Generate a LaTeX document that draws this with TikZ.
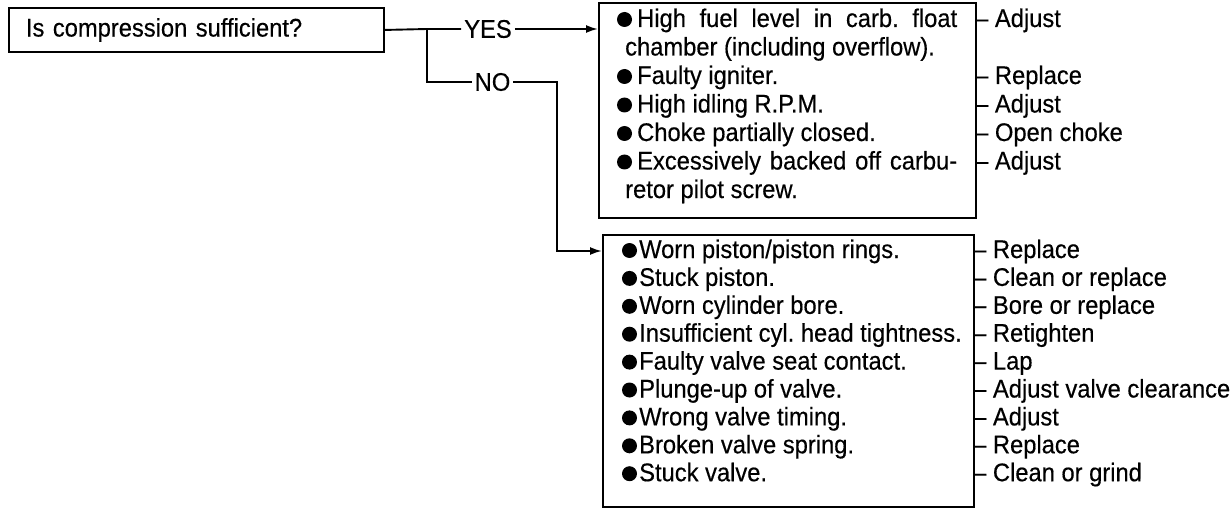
\documentclass[tikz,border=0pt]{standalone}
\usepackage{fontspec}
\setmainfont[FakeStretch=0.93,FakeBold=0.4]{Liberation Sans}
\usetikzlibrary{arrows.meta}
\frenchspacing
\begin{document}
\begin{tikzpicture}[x=1pt,y=-1pt,
  font=\fontsize{25.5}{28}\selectfont\frenchspacing,
  ln/.style={line width=1.9pt},
  boxst/.style={draw, line width=1.9pt, inner sep=0pt},
  lbl/.style={inner xsep=3pt, inner ysep=0pt},
  item/.style={anchor=base west, inner sep=0pt},
  remedy/.style={anchor=base west, inner sep=0pt},
  arr/.style={ln, -{Latex[length=12pt,width=8pt]}},
  dot/.style={fill=black},
]
\useasboundingbox (0,0) rectangle (1232,508);

% question
\node[boxst, anchor=north west, minimum width=375pt, minimum height=44pt,
      text width=341pt, align=left, inner xsep=17pt] (q) at (8,7) {Is compression sufficient?};

% boxes
\node[boxst, anchor=north west, minimum width=377pt, minimum height=215pt] (yb) at (598,2) {};
\node[boxst, anchor=north west, minimum width=371pt, minimum height=272pt] (nb) at (602,234) {};

% branch
\coordinate (j) at (427,29);
\node[lbl] (yes) at (488,29) {YES};
\node[lbl] (no) at (492.5,82) {NO};
\coordinate (k) at (557,82);
\coordinate (m) at (557,251);
\draw[ln] (q.east) -- (j) -- (yes.west);
\draw[arr] (yes.east) -- (yes.east -| yb.west);
\draw[ln] (j) |- (no.west);
\draw[arr] (no.east) -- (k) -- (m) -- (m -| nb.west);

% YES items
\node[item] (y1) at (637,27) {\makebox[320pt][s]{High fuel level in carb. float}};
\node[item] (y2) at (625,55.5) {chamber (including overflow).};
\node[item] (y3) at (637,84) {Faulty igniter.};
\node[item] (y4) at (637,112.5) {High idling R.P.M.};
\node[item] (y5) at (637,141) {Choke partially closed.};
\node[item] (y6) at (637,169.5) {\makebox[320pt][s]{Excessively backed off carbu-}};
\node[item] (y7) at (625,198) {retor pilot screw.};
\foreach \n in {y1,y3,y4,y5,y6}
  \fill[dot] (\n.base west) ++(-12.5,-7.5) circle (7.5pt);

% YES remedies
\node[remedy] (r1) at (975,27) {– Adjust};
\node[remedy] (r2) at (975,84) {– Replace};
\node[remedy] (r3) at (975,112.5) {– Adjust};
\node[remedy] (r4) at (975,141) {– Open choke};
\node[remedy] (r5) at (975,169.5) {– Adjust};

% NO items and remedies
\foreach \i/\t/\r in {
  1/Worn piston\slash piston rings./Replace,
  2/Stuck piston./Clean or replace,
  3/Worn cylinder bore./Bore or replace,
  4/Insufficient cyl. head tightness./Retighten,
  5/Faulty valve seat contact./Lap,
  6/Plunge-up of valve./Adjust valve clearance,
  7/Wrong valve timing./Adjust,
  8/Broken valve spring./Replace,
  9/Stuck valve./Clean or grind}{
  \node[item] (n\i) at (639,{258+27.9*(\i-1)}) {\t};
  \fill[dot] (n\i.base west) ++(-9.5,-7.5) circle (7.5pt);
  \node[remedy] (s\i) at (973,{258+27.9*(\i-1)}) {– \r};
}
\end{tikzpicture}
\end{document}
